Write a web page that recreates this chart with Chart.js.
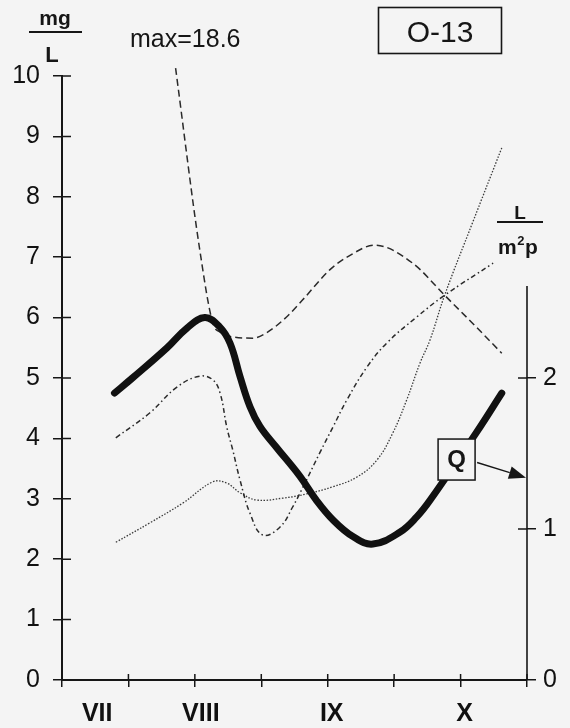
<!DOCTYPE html>
<html>
<head>
<meta charset="utf-8">
<script src="https://cdn.jsdelivr.net/npm/chart.js@4"></script>
<style>
  html, body { margin: 0; padding: 0; background: #f4f4f4; }
  #wrap { width: 570px; height: 728px; position: relative; }
</style>
</head>
<body>
<div id="wrap"><canvas id="c" width="570" height="728"></canvas></div>
<script>
const FONT = '"Liberation Sans", Arial, Helvetica, sans-serif';
const INK = '#161616';

// Time axis in half-month steps (0 = beginning of July)
const monthLabels = ['VII', 'VIII', 'IX', 'X'];
const monthPositions = [0.53, 2.09, 4.06, 6.06];
const rightTicks = [0, 1, 2];
const rightAxisTop = 2.61;

// Q, discharge (L / m² p), right axis
const qX = [0.79, 1.06, 1.58, 1.88, 2.15, 2.37, 2.53, 2.68, 2.83, 2.98, 3.23, 3.58, 3.83, 4.08, 4.38, 4.68, 5.09, 5.34, 5.54, 6.24, 6.62];
const qY = [1.90, 2.00, 2.20, 2.33, 2.40, 2.34, 2.23, 2.01, 1.81, 1.68, 1.54, 1.35, 1.19, 1.06, 0.95, 0.90, 0.98, 1.08, 1.19, 1.64, 1.90];

// dashed series, mg/L (peak 18.6 cut at the top of the axis)
const dashX = [1.71, 2.07, 2.27, 2.38, 2.57, 2.87, 3.08, 3.38, 3.62, 4.03, 4.29, 4.71, 5.28, 5.76, 6.24, 6.62];
const dashY = [10.13, 7.15, 5.91, 5.76, 5.68, 5.66, 5.75, 6.01, 6.29, 6.79, 7.00, 7.20, 6.90, 6.37, 5.84, 5.41];

// dash-dot series, mg/L
const dashDotX = [0.81, 1.32, 1.73, 2.07, 2.27, 2.38, 2.48, 2.57, 2.68, 2.83, 3.02, 3.28, 3.47, 3.68, 3.88, 4.08, 4.29, 4.59, 4.89, 5.34, 5.76, 6.49];
const dashDotY = [4.01, 4.42, 4.85, 5.03, 4.97, 4.75, 4.19, 3.81, 3.31, 2.76, 2.40, 2.53, 2.86, 3.31, 3.76, 4.19, 4.64, 5.18, 5.58, 6.01, 6.37, 6.90];

// dotted series, mg/L
const dotX = [0.81, 1.32, 1.82, 2.27, 2.48, 2.68, 2.93, 3.32, 3.68, 4.08, 4.44, 4.74, 4.98, 5.19, 5.39, 5.54, 5.76, 6.18, 6.62];
const dotY = [2.28, 2.60, 2.93, 3.28, 3.26, 3.10, 2.98, 3.01, 3.08, 3.20, 3.36, 3.64, 4.09, 4.64, 5.25, 5.63, 6.37, 7.57, 8.81];

// Q label box and the point its arrow hits on the right axis
const qBox = { x: 5.94, y: 1.46, w: 37, h: 41 };
const qArrowTip = { x: 7, y: 1.34 };

const pts = (xs, ys) => xs.map((x, i) => ({ x, y: ys[i] }));

const lineBase = {
  pointRadius: 0,
  fill: false,
  tension: 0.4,
  borderJoinStyle: 'round'
};

const decor = {
  id: 'decor',
  beforeDraw(chart) {
    const { ctx, width, height } = chart;
    ctx.save();
    ctx.fillStyle = '#f4f4f4';
    ctx.fillRect(0, 0, width, height);
    ctx.restore();
  },
  afterDraw(chart) {
    const { ctx, chartArea: a, scales } = chart;
    const { x, y, y2 } = scales;
    ctx.save();
    ctx.strokeStyle = INK;
    ctx.fillStyle = INK;
    ctx.lineWidth = 1.5;

    // inner halves of the crossing tick marks
    ctx.beginPath();
    x.ticks.forEach(t => {
      const px = x.getPixelForValue(t.value);
      ctx.moveTo(px, a.bottom); ctx.lineTo(px, a.bottom - 6);
    });
    y.ticks.forEach(t => {
      const py = y.getPixelForValue(t.value);
      ctx.moveTo(a.left, py); ctx.lineTo(a.left + 9, py);
    });
    rightTicks.forEach(v => {
      const py = y2.getPixelForValue(v);
      ctx.moveTo(a.right, py); ctx.lineTo(a.right - 9, py);
    });
    ctx.stroke();

    // right axis line, only up to its scale range
    ctx.beginPath();
    ctx.lineWidth = 1.6;
    ctx.moveTo(a.right, y2.getPixelForValue(0));
    ctx.lineTo(a.right, y2.getPixelForValue(rightAxisTop));
    ctx.stroke();

    // unit labels
    ctx.textAlign = 'center';
    ctx.textBaseline = 'alphabetic';
    ctx.font = 'bold 21px ' + FONT;
    ctx.fillText('mg', 55, 25);
    ctx.lineWidth = 2;
    ctx.beginPath(); ctx.moveTo(29, 32); ctx.lineTo(82, 32); ctx.stroke();
    ctx.font = 'bold 22px ' + FONT;
    ctx.fillText('L', 52, 62);

    ctx.font = 'bold 19px ' + FONT;
    ctx.fillText('L', 520, 219);
    ctx.beginPath(); ctx.moveTo(497, 222); ctx.lineTo(543, 222); ctx.stroke();
    ctx.textAlign = 'left';
    ctx.font = 'bold 21px ' + FONT;
    const mW = ctx.measureText('m').width;
    ctx.fillText('m', 498, 254);
    ctx.font = 'bold 13px ' + FONT;
    const sW = ctx.measureText('2').width;
    ctx.fillText('2', 498 + mW + 0.5, 245);
    ctx.font = 'bold 21px ' + FONT;
    ctx.fillText('p', 498 + mW + sW + 1, 254);

    // peak note for the dashed series
    ctx.font = '25px ' + FONT;
    ctx.textAlign = 'left';
    ctx.fillText('max=18.6', 130, 47);

    // station box
    ctx.lineWidth = 1.6;
    ctx.strokeRect(378.5, 7.5, 123, 46);
    ctx.font = '30px ' + FONT;
    ctx.textAlign = 'center';
    ctx.fillText('O-13', 440, 42);

    ctx.restore();
  },
  afterDatasetsDraw(chart) {
    const { ctx, scales } = chart;
    const { x, y2 } = scales;
    ctx.save();
    const cx = x.getPixelForValue(qBox.x);
    const cy = y2.getPixelForValue(qBox.y);
    const bx = cx - qBox.w / 2, by = cy - qBox.h / 2;
    ctx.fillStyle = '#f4f4f4';
    ctx.fillRect(bx, by, qBox.w, qBox.h);
    ctx.strokeStyle = INK;
    ctx.lineWidth = 1.5;
    ctx.strokeRect(bx, by, qBox.w, qBox.h);
    ctx.fillStyle = INK;
    ctx.font = 'bold 24px ' + FONT;
    ctx.textAlign = 'center';
    ctx.textBaseline = 'middle';
    ctx.fillText('Q', cx, cy + 1);

    // arrow to the right axis
    const sx = bx + qBox.w + 2, sy = cy + 3;
    const tx = x.getPixelForValue(qArrowTip.x) - 1, ty = y2.getPixelForValue(qArrowTip.y);
    const ang = Math.atan2(ty - sy, tx - sx);
    const hl = 17, hw = 6.5;
    const hx = tx - hl * Math.cos(ang), hy = ty - hl * Math.sin(ang);
    ctx.beginPath();
    ctx.lineWidth = 1.4;
    ctx.moveTo(sx, sy); ctx.lineTo(hx, hy); ctx.stroke();
    ctx.beginPath();
    ctx.moveTo(tx, ty);
    ctx.lineTo(hx + hw * Math.sin(ang), hy - hw * Math.cos(ang));
    ctx.lineTo(hx - hw * Math.sin(ang), hy + hw * Math.cos(ang));
    ctx.closePath();
    ctx.fill();
    ctx.restore();
  }
};

new Chart(document.getElementById('c'), {
  type: 'line',
  data: {
    datasets: [
      Object.assign({}, lineBase, {
        label: 'Q', data: pts(qX, qY), yAxisID: 'y2', xAxisID: 'x',
        borderColor: '#111', borderWidth: 7, borderCapStyle: 'round', order: 0
      }),
      Object.assign({}, lineBase, {
        label: 'dashed', data: pts(dashX, dashY), yAxisID: 'y', xAxisID: 'x',
        borderColor: '#2a2a2a', borderWidth: 1.5, borderDash: [7, 4], clip: false, order: 1,
        cubicInterpolationMode: 'monotone'
      }),
      Object.assign({}, lineBase, {
        label: 'dash-dot', data: pts(dashDotX, dashDotY), yAxisID: 'y', xAxisID: 'x',
        borderColor: '#2a2a2a', borderWidth: 1.5, borderDash: [5, 3, 1.5, 3], order: 2
      }),
      Object.assign({}, lineBase, {
        label: 'dotted', data: pts(dotX, dotY), yAxisID: 'y', xAxisID: 'x',
        borderColor: '#3a3a3a', borderWidth: 1.3, borderDash: [1.5, 1.6], order: 3
      })
    ]
  },
  options: {
    responsive: false,
    animation: false,
    events: [],
    layout: { padding: { top: 76, left: 0, right: 0, bottom: 0 } },
    plugins: { legend: { display: false }, tooltip: { enabled: false } },
    scales: {
      x: {
        type: 'linear', position: 'bottom', min: 0, max: 7, weight: 0,
        ticks: { display: false, stepSize: 1 },
        grid: { drawOnChartArea: false, tickLength: 7, color: INK, lineWidth: 1.5 },
        border: { color: INK, width: 2 },
        afterFit(s) { s.height = 8; }
      },
      xl: {
        type: 'linear', position: 'bottom', min: 0, max: 7, weight: 1,
        grid: { display: false }, border: { display: false },
        afterBuildTicks(s) { s.ticks = monthPositions.map(v => ({ value: v })); },
        ticks: {
          autoSkip: false, maxRotation: 0, padding: 3, color: '#111',
          font: { family: FONT, size: 25, weight: 'bold' },
          callback: (v, i) => monthLabels[i]
        },
        afterFit(s) { s.height = 40; }
      },
      y: {
        position: 'left', min: 0, max: 10,
        ticks: { stepSize: 1, padding: 13, color: '#111', font: { family: FONT, size: 25 } },
        grid: { drawOnChartArea: false, tickLength: 9, color: INK, lineWidth: 1.5 },
        border: { color: INK, width: 2 },
        afterFit(s) { s.width = 62; }
      },
      y2: {
        position: 'right', min: 0, max: 4,
        afterBuildTicks(s) { s.ticks = rightTicks.map(v => ({ value: v })); },
        ticks: { padding: 7, color: '#111', font: { family: FONT, size: 25 } },
        grid: { drawOnChartArea: false, tickLength: 9, color: INK, lineWidth: 1.5 },
        border: { display: false },
        afterFit(s) { s.width = 43; }
      }
    }
  },
  plugins: [decor]
});
</script>
</body>
</html>
